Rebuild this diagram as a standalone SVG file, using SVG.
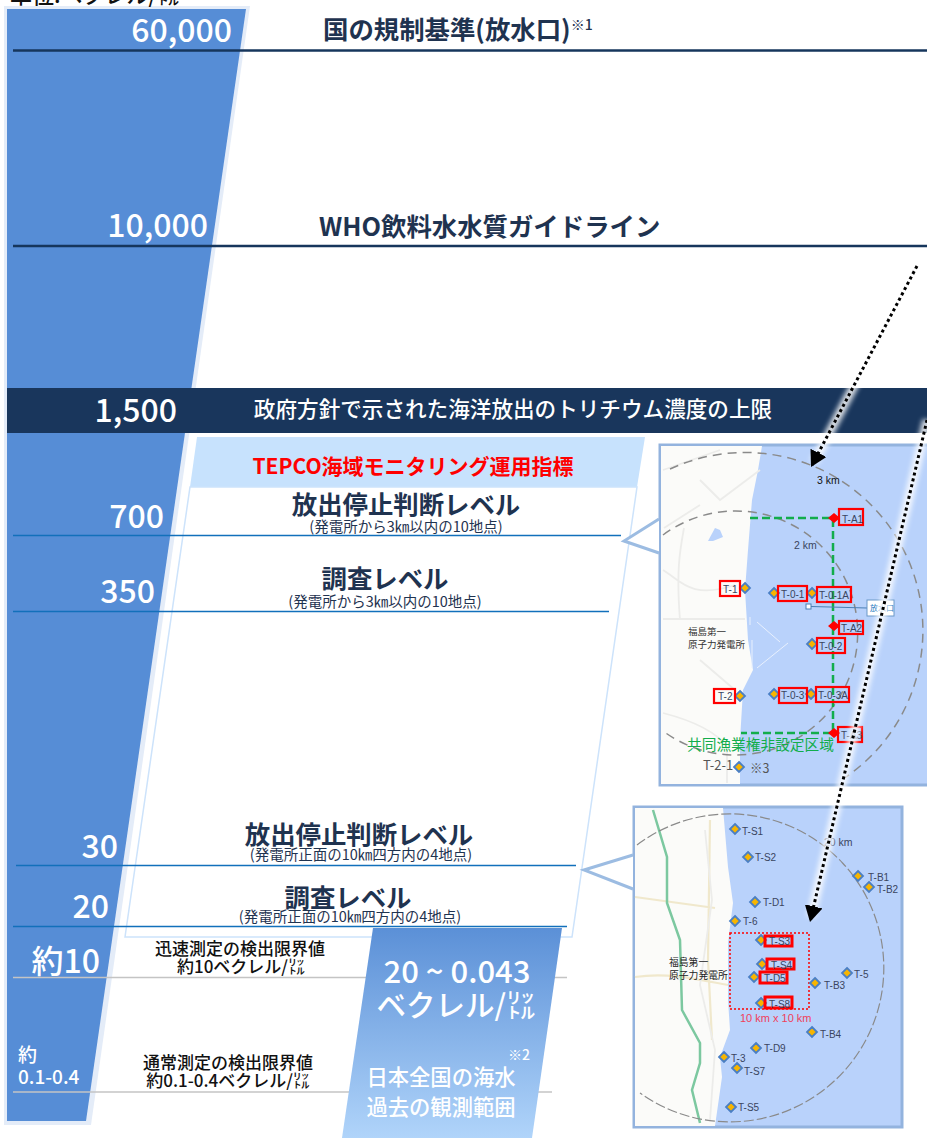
<svg xmlns="http://www.w3.org/2000/svg" width="927" height="1138" viewBox="0 0 927 1138">
<defs>
<linearGradient id="obs" x1="0" y1="0" x2="0" y2="1"><stop offset="0" stop-color="#5b90d7"/><stop offset="1" stop-color="#b0d4fa"/></linearGradient>
<marker id="ah" markerUnits="userSpaceOnUse" markerWidth="18" markerHeight="20" refX="16" refY="9" orient="auto"><path d="M0 0L16 9L0 18Z" fill="#000"/></marker>
<filter id="glow" x="-30%" y="-30%" width="160%" height="160%"><feGaussianBlur stdDeviation="2.500"/></filter>
</defs>
<style>
text{font-family:"Noto Sans CJK JP","Noto Sans",sans-serif}
.num{fill:#fff;font-weight:500;text-anchor:end;font-size:32px}
.title{fill:#1f3350;font-weight:700;font-size:25.4px}
.h{fill:#1f3350;font-weight:700;text-anchor:middle;font-size:25.4px}
.s{fill:#1f3350;font-size:14.5px;text-anchor:middle}
.t{fill:#111;font-weight:500;text-anchor:middle;font-size:17px}
.nv{stroke:#16365c;stroke-width:2.5}
.bl{stroke:#1270bb;stroke-width:1.4}
.gr{stroke:#c4c4c4;stroke-width:1.5}
.w{fill:#fff;text-anchor:middle;font-weight:500}
.frame{fill:#b9d2fb;stroke:#93b3de;stroke-width:3}
.land{fill:#fbfbf9}
.road{fill:none;stroke:#ececea;stroke-width:1.800}
.rd2{fill:none;stroke:#f0e8cc;stroke-width:2.200}
.circ{fill:none;stroke:#8a8a8a;stroke-width:1.500;stroke-dasharray:9 6}
.d{fill:#f7b500;stroke:#4a7fc4;stroke-width:1.800}
.rb{fill:none;stroke:#f00;stroke-width:2.200}
.m{font-size:10px;fill:#3a4560;font-family:"Liberation Sans",sans-serif}
.gd{stroke:#12ad4b;stroke-width:2.500;stroke-dasharray:8 4;fill:none}
.rd{fill:#f00}
.dot{stroke:#000;stroke-width:3;stroke-dasharray:3 3;fill:none}
.glow{stroke:#fff;stroke-width:9;opacity:.85;fill:none}
</style>

<g id="scale-bar">
<path d="M4 6H250L91 1125H4Z" fill="#e4ecf8"/>
<path d="M7 9H246L86 1121H7Z" fill="#568dd6"/>
</g>
<text x="10" y="3" font-size="22" font-weight="500" fill="#111">単位:ベクレル/㍑</text>

<g id="band-1500">
<rect x="7" y="388" width="920" height="45" fill="#19365c"/>
<text x="177" y="422" class="num">1,500</text>
<text x="513" y="417" class="w" font-size="21.6">政府方針で示された海洋放出のトリチウム濃度の上限</text>
</g>

<g id="level-60000">
<line class="nv" x1="13" y1="50.500" x2="927" y2="50.500"/>
<text x="232" y="42" class="num">60,000</text>
<text x="323" y="39" class="title">国の規制基準(放水口)<tspan font-size="14" font-weight="500" dy="-9">※1</tspan></text>
</g>
<g id="level-10000">
<line class="nv" x1="13" y1="246" x2="927" y2="246"/>
<text x="208" y="237" class="num">10,000</text>
<text x="319" y="236" class="title">WHO飲料水水質ガイドライン</text>
</g>

<g id="tepco-panel">
<path d="M197 437H645L637 487H190Z" fill="#c7e2fd"/>
<path d="M190 487H637L572 937H125Z" fill="#fff" stroke="#cde3fb" stroke-width="1.500"/>
<text x="413" y="474" font-size="21" font-weight="700" fill="#f00" text-anchor="middle">TEPCO海域モニタリング運用指標</text>
</g>

<g id="level-700">
<line class="bl" x1="13" y1="535.500" x2="621" y2="535.500"/>
<text x="164" y="528" class="num">700</text>
<text x="406" y="514" class="h">放出停止判断レベル</text>
<text x="406" y="532" class="s">(発電所から3㎞以内の10地点)</text>
</g>
<g id="level-350">
<line class="bl" x1="13" y1="611.500" x2="609" y2="611.500"/>
<text x="155" y="603" class="num">350</text>
<text x="385" y="588" class="h">調査レベル</text>
<text x="385" y="607" class="s">(発電所から3㎞以内の10地点)</text>
</g>
<g id="level-30">
<line class="bl" x1="16" y1="865.500" x2="576" y2="865.500"/>
<text x="118" y="858" class="num">30</text>
<text x="359" y="844" class="h">放出停止判断レベル</text>
<text x="361" y="860" class="s">(発電所正面の10㎞四方内の4地点)</text>
</g>
<g id="level-20">
<line class="bl" x1="13" y1="926.500" x2="567" y2="926.500"/>
<text x="109" y="918" class="num">20</text>
<text x="348" y="907" class="h">調査レベル</text>
<text x="350" y="922" class="s">(発電所正面の10㎞四方内の4地点)</text>
</g>

<g id="level-10">
<line class="gr" x1="13" y1="977.500" x2="567" y2="977.500"/>
<text x="100" y="973" class="num">約10</text>
<text x="240" y="955" class="t">迅速測定の検出限界値</text>
<text x="241" y="973" class="t">約10ベクレル/㍑</text>
</g>
<g id="level-01">
<line class="gr" x1="13" y1="1092" x2="552" y2="1092"/>
<text x="18" y="1062" font-size="19" fill="#fff" font-weight="500">約</text>
<text x="18" y="1084" font-size="19" fill="#fff" font-weight="500">0.1-0.4</text>
<text x="228" y="1069" class="t">通常測定の検出限界値</text>
<text x="228" y="1087" class="t">約0.1-0.4ベクレル/㍑</text>
</g>

<g id="observed-range">
<path d="M373 928H562L532 1138H342Z" fill="url(#obs)"/>
<text x="457" y="983" class="w" font-size="31">20 ~ 0.043</text>
<text x="456" y="1016" class="w" font-size="29.500">ベクレル/㍑</text>
<text x="519" y="1060" class="w" font-size="14">※2</text>
<text x="441" y="1085" class="w" font-size="21.300">日本全国の海水</text>
<text x="441" y="1115" class="w" font-size="21.300">過去の観測範囲</text>
</g>

<g id="map-3km">
<rect class="frame" x="660" y="445" width="280" height="340"/>
<path class="land" d="M661 446H762L758 470L752 500L748 550L745 590L748 640L753 670L743 690L740 740L740 784H661Z"/>
<path d="M684 528C680 550 676 570 680 620M663 713C690 720 715 730 727 747V783M663 619H745M663 570C680 580 690 600 735 585M700 660L735 690" class="road"/>
<path d="M663 470L720 450M700 480L720 500L760 470M664 528L700 505" class="road" stroke-width="1"/>
<path d="M708 541L715 528L720 530L723 537L713 541Z" fill="#b9d2fb"/>
<path d="M750 617V625M752 640V668M757 622L780 642M788 643L757 668" stroke="#e8f0fd" stroke-width="1" fill="none"/>
<path d="M659 519L624 541L659 553Z" fill="#fff"/>
<path d="M659 519L624 541L659 553" fill="none" stroke="#9cbce2" stroke-width="3"/>
<path class="circ" d="M670 469A178 178 0 0 1 843 779"/>
<path class="circ" d="M663 535A122 122 0 1 1 663 731"/>
<path class="gd" d="M750 518H833V733H741"/>
<path class="rd" d="M834 513L840 518L834 523L828 518Z M834 621L840 626L834 631L828 626Z M834 728L840 733L834 738L828 733Z"/>
<g id="map3-stations">
<path class="d" d="M745 583L750 588L745 593L740 588Z M774 588L779 593L774 598L769 593Z M812 588L817 593L812 598L807 593Z M812 639L817 644L812 649L807 644Z M740 691L745 696L740 701L735 696Z M774 689L779 694L774 699L769 694Z M811 689L816 694L811 699L806 694Z M739 762L744 767L739 772L734 767Z"/>
<rect class="rb" x="720" y="581" width="20" height="15"/>
<rect class="rb" x="778" y="586" width="29" height="15"/>
<rect class="rb" x="817" y="587" width="34" height="15"/>
<rect class="rb" x="839" y="509" width="24" height="16"/>
<rect class="rb" x="839" y="621" width="24" height="13"/>
<rect class="rb" x="817" y="638" width="28" height="15"/>
<rect class="rb" x="714" y="689" width="21" height="14"/>
<rect class="rb" x="779" y="688" width="28" height="15"/>
<rect class="rb" x="816" y="687" width="33" height="15"/>
<rect class="rb" x="838" y="727" width="24" height="15"/>
<text class="m" x="723" y="593">T-1</text><text class="m" x="781" y="598">T-0-1</text><text class="m" x="819" y="599">T-0-1A</text>
<text class="m" x="842" y="523">T-A1</text><text class="m" x="841" y="632">T-A2</text><text class="m" x="819" y="650">T-0-2</text>
<text class="m" x="718" y="700">T-2</text><text class="m" x="781" y="699">T-0-3</text><text class="m" x="818" y="699">T-0-3A</text><text class="m" x="841" y="739">T-A3</text>
</g>
<rect x="806" y="604" width="5" height="5" fill="#fff" stroke="#4a7fb5"/><path d="M811 606.500L867 608" stroke="#4a7fb5"/>
<rect x="867" y="600" width="27" height="16" fill="#fff" stroke="#6a97c8"/>
<text x="870" y="611" font-size="8" fill="#2a7ac0">放水口</text>
<text x="817" y="484" class="m" style="fill:#111;font-size:10.500px">3 km</text>
<text x="794" y="549" class="m" style="font-size:10.500px">2 km</text>
<text x="688" y="635" font-size="9.500" fill="#333">福島第一</text>
<text x="688" y="648" font-size="9.500" fill="#333">原子力発電所</text>
<text x="687" y="750" font-size="14.700" fill="#12ad4b">共同漁業権非設定区域</text>
<text x="703" y="770" font-size="13" fill="#555" font-family="Liberation Sans,sans-serif">T-2-1</text>
<text x="750" y="773" font-size="12.500" fill="#555">※3</text>
</g>

<g id="map-10km">
<rect class="frame" x="634" y="807" width="268" height="320"/>
<path class="land" d="M635 808H723L728 867L733 903L728 943L728 1000L730 1030L720 1057L722 1077L715 1126H635Z"/>
<path d="M635 897L715 908M635 977C670 972 700 980 728 985M710 820L708 960L712 1040" class="rd2"/>
<path d="M705 830L712 900L700 985L715 1050L710 1120" class="road"/>
<path d="M653 810L667 857L667 903L680 940L682 1010L700 1043L700 1063L692 1090L700 1123" fill="none" stroke="#7cc8a0" stroke-width="2.500"/>
<path d="M584 870L633 855V889Z" fill="#fff"/>
<path d="M633 855L584 870L633 889" fill="none" stroke="#9cbce2" stroke-width="3"/>
<path class="circ" style="stroke-dasharray:10 3;stroke-width:1.200" d="M637 845A154 154 0 1 1 640 1093"/>
<rect x="730" y="933" width="79" height="76" fill="none" stroke="#f00" stroke-dasharray="2 2" stroke-width="1.500"/>
<g id="map10-stations">
<path class="d" d="M735 824L740 829L735 834L730 829Z M748 852L753 857L748 862L743 857Z M755 897L760 902L755 907L750 902Z M735 916L740 921L735 926L730 921Z M761 935L766 940L761 945L756 940Z M762 959L767 964L762 969L757 964Z M754 972L759 977L754 982L749 977Z M761 998L766 1003L761 1008L756 1003Z M815 978L820 983L815 988L810 983Z M847 968L852 973L847 978L842 973Z M858 871L863 876L858 881L853 876Z M869 882L874 887L869 892L864 887Z M812 1027L817 1032L812 1037L807 1032Z M756 1043L761 1048L756 1053L751 1048Z M724 1052L729 1057L724 1062L719 1057Z M737 1063L742 1068L737 1073L732 1068Z M731 1102L736 1107L731 1112L726 1107Z"/>
<rect class="rb" style="stroke-width:3" x="765" y="936" width="27" height="10"/>
<rect class="rb" style="stroke-width:3" x="767" y="959" width="27" height="10"/>
<rect class="rb" style="stroke-width:3" x="760" y="972" width="27" height="11"/>
<rect class="rb" style="stroke-width:3" x="765" y="997" width="27" height="11"/>
<text class="m" x="769" y="945">T-S3</text><text class="m" x="771" y="969">T-S4</text><text class="m" x="764" y="982">T-D5</text><text class="m" x="769" y="1008">T-S8</text>
<text class="m" x="742" y="835">T-S1</text><text class="m" x="755" y="861">T-S2</text><text class="m" x="763" y="906">T-D1</text><text class="m" x="743" y="925">T-6</text>
<text class="m" x="824" y="989">T-B3</text><text class="m" x="854" y="978">T-5</text><text class="m" x="868" y="881">T-B1</text><text class="m" x="877" y="893">T-B2</text>
<text class="m" x="820" y="1038">T-B4</text><text class="m" x="764" y="1052">T-D9</text><text class="m" x="731" y="1062">T-3</text><text class="m" x="744" y="1075">T-S7</text><text class="m" x="738" y="1111">T-S5</text>
</g>
<text x="669" y="966" font-size="9.800" fill="#222">福島第一</text>
<text x="669" y="979" font-size="9.800" fill="#222">原子力発電所</text>
<text x="740" y="1022" class="m" style="fill:#f0405a;font-size:11px">10 km x 10 km</text>
<text x="824" y="846" class="m" style="font-size:10.500px">20 km</text>
</g>

<g id="connectors">
<path class="glow" d="M917 266L814 462" filter="url(#glow)"/>
<path class="glow" d="M927 420L811 917" filter="url(#glow)"/>
<path class="dot" d="M917 266L811 467" marker-end="url(#ah)"/>
<path class="dot" d="M927 420L810 922" marker-end="url(#ah)"/>
</g>
</svg>
